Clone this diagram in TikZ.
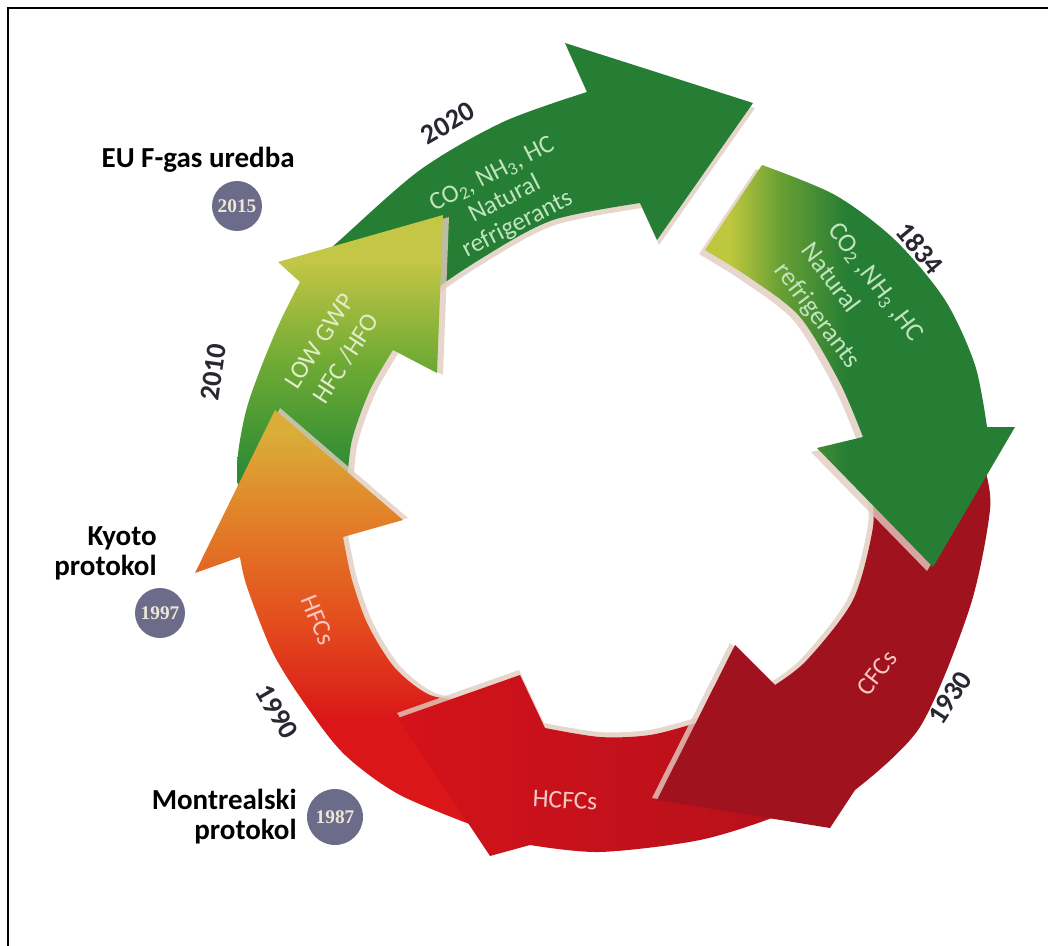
\documentclass[tikz,border=0pt]{standalone}
\usepackage{fontspec}
\setmainfont{Carlito}
\newfontfamily\badgefont{Liberation Serif}
\usetikzlibrary{calc}

\definecolor{gdark}{RGB}{38,125,52}
\definecolor{ayel}{RGB}{190,200,62}
\definecolor{amid}{RGB}{105,160,52}
\definecolor{eyel}{RGB}{196,198,70}
\definecolor{emid}{RGB}{110,170,52}
\definecolor{edark}{RGB}{42,138,52}
\definecolor{dyel}{RGB}{218,172,56}
\definecolor{dora}{RGB}{226,128,40}
\definecolor{dorg}{RGB}{228,78,30}
\definecolor{dred}{RGB}{218,22,24}
\definecolor{cred}{RGB}{212,18,26}
\definecolor{cdark}{RGB}{178,16,28}
\definecolor{bred}{RGB}{160,18,30}
\definecolor{shadowc}{RGB}{226,204,192}
\definecolor{badgec}{RGB}{108,108,138}
\definecolor{badgetxt}{RGB}{235,230,215}
\definecolor{yearc}{RGB}{40,40,50}
\definecolor{greentxt}{RGB}{192,228,190}
\definecolor{lowtxt}{RGB}{226,236,200}
\definecolor{redtxt}{RGB}{248,200,196}

\pgfdeclarehorizontalshading{greenA}{100bp}{color(0bp)=(ayel); color(29bp)=(ayel); color(37bp)=(amid); color(48bp)=(gdark); color(100bp)=(gdark)}
\pgfdeclareverticalshading{greenE}{100bp}{color(0bp)=(edark); color(35bp)=(edark); color(52bp)=(emid); color(68bp)=(eyel); color(100bp)=(eyel)}
\pgfdeclareverticalshading{orangeD}{100bp}{color(0bp)=(dred); color(38bp)=(dred); color(50bp)=(dorg); color(62bp)=(dora); color(72bp)=(dyel); color(100bp)=(dyel)}

% outlines of the six arrows, in pixel units
\newcommand\arrowF{plot[smooth] coordinates {(320,258) (340,240) (420,170) (503,122) (587,92)} -- (565,43) -- (753,103) -- (657,240) -- plot[smooth] coordinates {(640,203) (553,220) (487,255) (430,295) (420,330)} -- cycle}
\newcommand\arrowE{plot[smooth] coordinates {(245,540) (237,470) (245,415) (260,370) (280,322) (300,282)} -- (278,262) -- (443,215) -- (437,373) -- plot[smooth] coordinates {(393,350) (370,390) (352,440) (345,490) (330,520)} -- cycle}
\newcommand\arrowD{plot[smooth] coordinates {(485,830) (400,795) (345,755) (307,707) (273,653) (247,587) (240,557)} -- (195,573) -- (275,410) -- (403,520) -- plot[smooth] coordinates {(343,537) (352,580) (368,625) (395,668) (430,695) (470,700) (500,700)} -- cycle}
\newcommand\arrowC{plot[smooth] coordinates {(845,785) (780,815) (700,840) (600,852) (530,845)} -- (490,856) -- (398,718) -- (520,675) -- plot[smooth] coordinates {(545,728) (600,737) (650,735) (700,722) (775,700)} -- cycle}
\newcommand\arrowB{plot[smooth] coordinates {(985,470) (990,510) (970,607) (920,727) (855,790)} -- (830,828) -- (657,800) -- (735,645) -- plot[smooth] coordinates {(775,685) (807,660) (853,600) (873,527) (870,490)} -- cycle}
\newcommand\arrowA{plot[smooth] coordinates {(762,165) (835,195) (895,240) (945,300) (975,365) (987,427)} -- (1015,427) -- (933,567) -- (817,448) -- plot[smooth] coordinates {(863,437) (840,383) (800,317) (750,278) (705,250)} -- cycle}

\tikzset{
  shadow/.style={fill=shadowc, fill opacity=0.8},
  year/.style={font=\fontsize{16}{18}\selectfont\bfseries, text=yearc, inner sep=0pt},
  intext/.style={font=\fontsize{14.5}{16}\selectfont, align=center, inner sep=0pt},
  note/.style={font=\fontsize{16.5}{17}\selectfont\bfseries, align=right, inner sep=0pt},
  badge/.style={circle, fill=badgec, inner sep=0pt, minimum size=1cm, text=badgetxt, font=\badgefont\bfseries\fontsize{11}{11}\selectfont}
}

\begin{document}
\begin{tikzpicture}[x=0.02cm, y=-0.02cm]
  \useasboundingbox (0,0) rectangle (1048,946);
  \fill[white] (0,0) rectangle (1048,946);
  \draw[line width=1.3pt] (8,946) -- (8,8) -- (1048,8);

  % arrows, back to front
  \fill[shadow, shift={(2,5)}] \arrowF;
  \fill[gdark] \arrowF;
  \fill[shadow, shift={(6,2)}] \arrowE;
  \shade[shading=greenE] \arrowE;
  \fill[shadow, shift={(5,-2)}] \arrowD;
  \shade[shading=orangeD] \arrowD;
  \fill[shadow, shift={(-1,-5)}] \arrowC;
  \shade[left color=cred, right color=cdark] \arrowC;
  \fill[shadow, shift={(-5,-2)}] \arrowB;
  \fill[bred] \arrowB;
  \fill[shadow, shift={(-6,4)}] \arrowA;
  \shade[shading=greenA] \arrowA;

  % texts on the arrows
  \node[intext, text=greentxt, rotate=27] (tF) at (505,200) {CO\textsubscript{2}, NH\textsubscript{3}, HC\\Natural\\refrigerants};
  \node[intext, text=greentxt, rotate=-53, align=left, font=\fontsize{15}{19}\selectfont] (tA) at (848,303) {CO\textsubscript{2} ,NH\textsubscript{3} ,HC\\Natural\\refrigerants};
  \node[intext, text=lowtxt, rotate=57, font=\fontsize{14.5}{18}\selectfont] (tE) at (333,350) {LOW GWP\\HFC /HFO};
  \node[intext, text=redtxt, rotate=-68] (tD) at (318,620) {HFCs};
  \node[intext, text=redtxt, rotate=-3] (tC) at (565,800) {HCFCs};
  \node[intext, text=redtxt, rotate=52] (tB) at (877,673) {CFCs};

  % years
  \node[year, rotate=30] (y2020) at (448,123) {2020};
  \node[year, rotate=-50] (y1834) at (920,248) {1834};
  \node[year, rotate=57] (y1930) at (950,698) {1930};
  \node[year, rotate=-60] (y1990) at (277,712) {1990};
  \node[year, rotate=82] (y2010) at (213,372) {2010};

  % regulations
  \node[note, anchor=east] (eu) at (295,160) {EU F-gas uredba};
  \node[badge] (b2015) at (237,206) {2015};
  \node[note, anchor=east] (kyoto) at (157,553) {Kyoto\\protokol};
  \node[badge] (b1997) at (160,613) {1997};
  \node[note, anchor=east] (montreal) at (297,817) {Montrealski\\protokol};
  \node[badge, minimum size=1.12cm] (b1987) at (335,817) {1987};
\end{tikzpicture}
\end{document}
